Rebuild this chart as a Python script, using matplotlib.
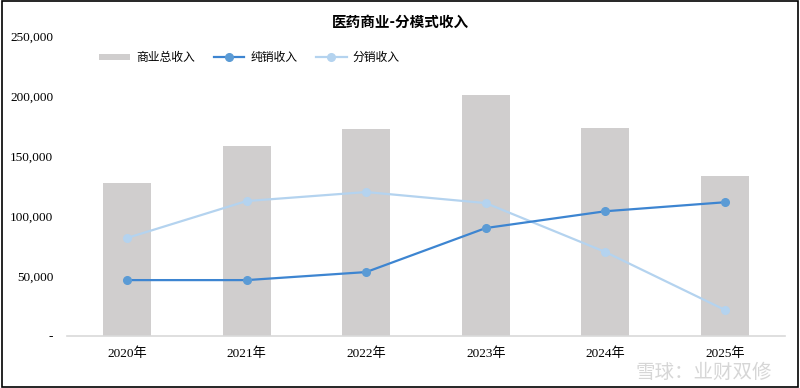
import matplotlib.pyplot as plt
from matplotlib.ticker import FuncFormatter
from matplotlib.patches import Rectangle

# data
years = ['2020年', '2021年', '2022年', '2023年', '2024年', '2025年']
total_rev = [127500, 158300, 172500, 200500, 173300, 133300]
direct_rev = [46600, 46600, 53300, 90000, 104000, 111500]
distrib_rev = [81700, 112500, 120000, 110800, 70000, 21700]

C_BAR = '#D0CECE'
C_DIRECT = '#3D85D1'
C_DIRECT_M = '#5B9BD5'
C_DIST = '#B4D3EF'

CJK = ['Noto Sans CJK SC', 'DejaVu Sans']
MIX = ['Liberation Serif', 'Noto Sans CJK SC']

fig = plt.figure(figsize=(8, 3.88), dpi=100)
ax = fig.add_axes([0.084, 0.134, 0.897, 0.773])

x = range(len(years))
bars = ax.bar(x, total_rev, width=0.4, color=C_BAR, label='商业总收入', zorder=1)
l1, = ax.plot(x, direct_rev, color=C_DIRECT, lw=1.6, marker='o', ms=5.5,
              mfc=C_DIRECT_M, mec=C_DIRECT_M, label='纯销收入', zorder=3)
l2, = ax.plot(x, distrib_rev, color=C_DIST, lw=1.6, marker='o', ms=5.5,
              mfc=C_DIST, mec=C_DIST, label='分销收入', zorder=2)

ax.set_xlim(-0.5, len(years) - 0.5)
ax.set_ylim(0, 250000)
ax.set_yticks(range(0, 250001, 50000))
ax.yaxis.set_major_formatter(FuncFormatter(lambda v, p: '-' if v == 0 else f'{int(v):,}'))
ax.set_xticks(list(x))
ax.set_xticklabels(years, family=MIX, fontsize=9.5)
for t in ax.get_yticklabels():
    t.set_family('Liberation Serif')
    t.set_fontsize(9.5)
ax.tick_params(length=0)
ax.tick_params(axis='y', pad=10)
ax.tick_params(axis='x', pad=8)

for s in ['top', 'right', 'left']:
    ax.spines[s].set_visible(False)
ax.spines['bottom'].set_color('#D9D9D9')
ax.spines['bottom'].set_linewidth(1.2)

ax.legend([bars, l1, l2], ['商业总收入', '纯销收入', '分销收入'],
          loc='upper left', bbox_to_anchor=(0.03, 0.985), ncol=3, frameon=False,
          prop={'family': CJK, 'size': 8.5}, handlelength=2.6, handleheight=0.5,
          columnspacing=1.6, handletextpad=0.5)

fig.text(0.5, 0.945, '医药商业-分模式收入', ha='center', va='center',
         family=CJK, fontsize=10.5, fontweight='bold')

# watermark
fig.text(0.965, 0.04, '雪球：业财双修', ha='right', va='center', family=CJK,
         fontsize=14, color='#BBBBBB', alpha=0.6)

# frame around the figure
fig.patches.append(Rectangle((0.002, 0.003), 0.996, 0.994, transform=fig.transFigure,
                             fill=False, edgecolor='black', lw=1.2))

fig.savefig('out.png', dpi=100, facecolor='white')
